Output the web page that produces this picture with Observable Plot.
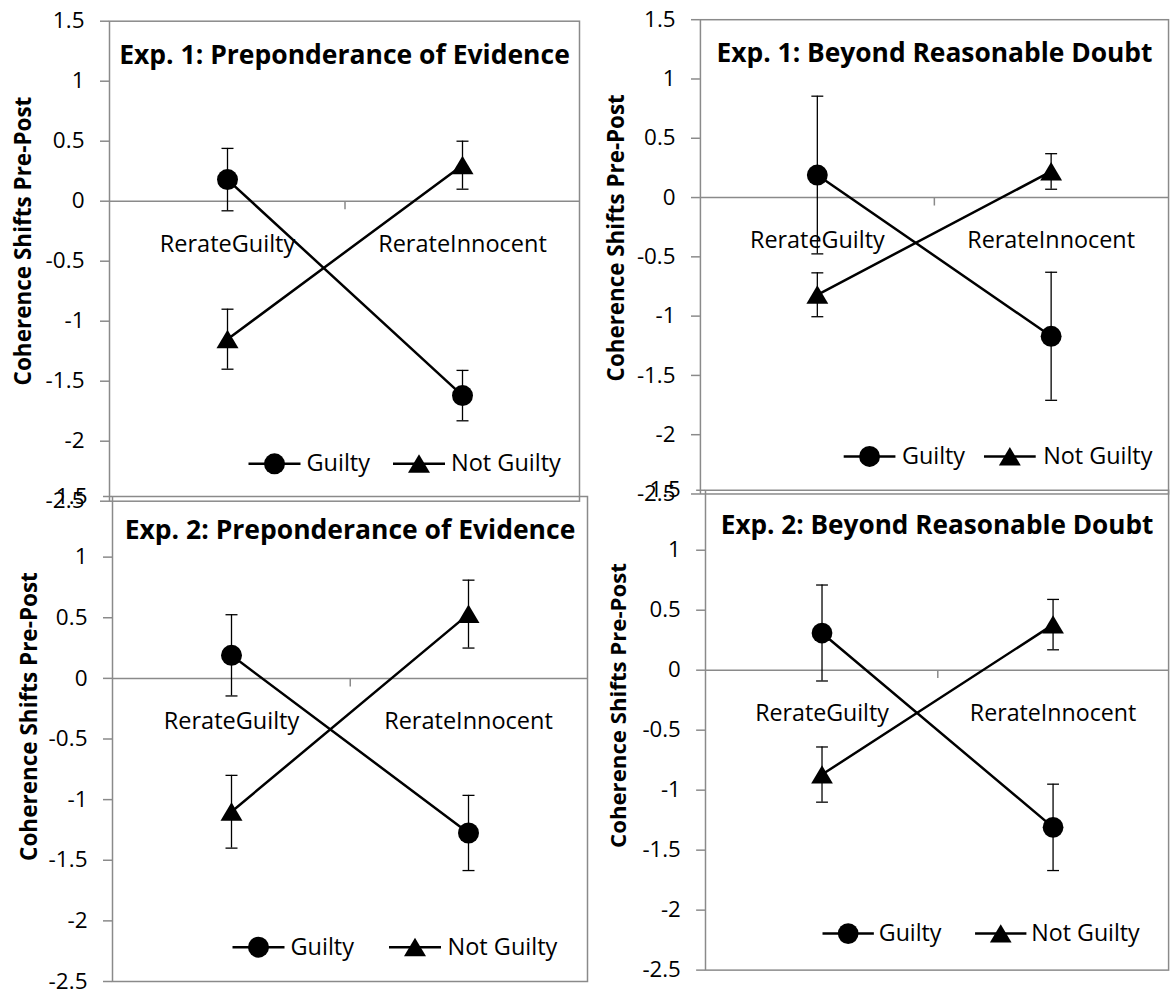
<!DOCTYPE html>
<html><head><meta charset="utf-8">
<script src="https://cdn.jsdelivr.net/npm/d3@7"></script>
<script src="https://cdn.jsdelivr.net/npm/@observablehq/plot@0.6"></script>
<style>
html,body{margin:0;padding:0;background:#fff;}
#wrap{position:relative;width:1176px;height:991px;overflow:hidden;background:#fff;}
#wrap svg{position:absolute;left:0;top:0;}
</style></head><body><div id="wrap"></div>
<script>
// ---- data ----
const categories = ["RerateGuilty", "RerateInnocent"];
const seriesNames = ["Guilty", "Not Guilty"];
const panelTitles = [
  "Exp. 1: Preponderance of Evidence",
  "Exp. 1: Beyond Reasonable Doubt",
  "Exp. 2: Preponderance of Evidence",
  "Exp. 2: Beyond Reasonable Doubt"
];
const yAxisTitle = "Coherence Shifts Pre-Post";
const yTicks = [1.5, 1, 0.5, 0, -0.5, -1, -1.5, -2, -2.5];
const yDomain = [-2.5, 1.5];

const exp1PoeGuilty = [0.18, -1.62];
const exp1PoeGuiltyErr = [0.26, 0.21];
const exp1PoeNotGuilty = [-1.15, 0.30];
const exp1PoeNotGuiltyErr = [0.25, 0.20];

const exp1BrdGuilty = [0.19, -1.17];
const exp1BrdGuiltyErr = [0.665, 0.54];
const exp1BrdNotGuilty = [-0.82, 0.22];
const exp1BrdNotGuiltyErr = [0.185, 0.15];

const exp2PoeGuilty = [0.19, -1.275];
const exp2PoeGuiltyErr = [0.335, 0.31];
const exp2PoeNotGuilty = [-1.10, 0.53];
const exp2PoeNotGuiltyErr = [0.30, 0.28];

const exp2BrdGuilty = [0.31, -1.31];
const exp2BrdGuiltyErr = [0.40, 0.36];
const exp2BrdNotGuilty = [-0.87, 0.38];
const exp2BrdNotGuiltyErr = [0.23, 0.21];

const panelData = [
  [exp1PoeGuilty, exp1PoeGuiltyErr, exp1PoeNotGuilty, exp1PoeNotGuiltyErr],
  [exp1BrdGuilty, exp1BrdGuiltyErr, exp1BrdNotGuilty, exp1BrdNotGuiltyErr],
  [exp2PoeGuilty, exp2PoeGuiltyErr, exp2PoeNotGuilty, exp2PoeNotGuiltyErr],
  [exp2BrdGuilty, exp2BrdGuiltyErr, exp2BrdNotGuilty, exp2BrdNotGuiltyErr]
];

// ---- layout (page pixels) ----
const layout = [
  {left: 109, right: 579, top: 20.7, bottom: 500.7, labX: 23, labY: 240.5, titleBase: 63.3, legY: 463.3, legX: [274, 306, 418.5, 450.5]},
  {left: 703.5, right: 1174, top: 19.3, bottom: 496, labX: 619, labY: 238.5, titleBase: 61.7, legY: 458.3, legX: [873.5, 906, 1014.5, 1048]},
  {left: 112, right: 587, top: 496, bottom: 981, labX: 29, labY: 716, titleBase: 538.3, legY: 946.7, legX: [258, 290, 414.5, 447]},
  {left: 714, right: 1183, top: 496, bottom: 982, labX: 626, labY: 714, titleBase: 540, legY: 945, legX: [858.5, 889.5, 1013, 1044]}
];

const FONT = "'Open Sans', sans-serif";
const TICK_FS = 22.5, CAT_FS = 23.5, LEG_FS = 23.5, TITLE_FS = 26.5, YLAB_FS = 22.5;
const GRAY = "#8a8a8a";

const triSymbol = {draw(ctx) { ctx.moveTo(0, -9.5); ctx.lineTo(11, 9); ctx.lineTo(-11, 9); ctx.closePath(); }};
const capSymbol = {draw(ctx) { ctx.moveTo(-6, 0); ctx.lineTo(6, 0); }};
const downTick = {draw(ctx) { ctx.moveTo(0, 0); ctx.lineTo(0, 8); }};
const legLine = {draw(ctx) { ctx.moveTo(-26, 0); ctx.lineTo(26, 0); }};

const wrap = document.getElementById("wrap");

layout.forEach((L, i) => {
  const [g, ge, ng, nge] = panelData[i];
  const rows = [];
  categories.forEach((c, j) => {
    rows.push({series: seriesNames[0], cat: c, mean: g[j], lo: g[j] - ge[j], hi: g[j] + ge[j]});
    rows.push({series: seriesNames[1], cat: c, mean: ng[j], lo: ng[j] - nge[j], hi: ng[j] + nge[j]});
  });
  const W = Math.max(1176, L.right + 8);
  const H = 991;
  const fw = L.right - L.left;
  const midY = (L.top + L.bottom) / 2;
  const legDy = L.legY - L.top;
  const leg = [
    Plot.dot([0], {frameAnchor: "top-left", dx: L.legX[0] - L.left, dy: legDy, symbol: legLine, stroke: "black", strokeWidth: 2.5, fill: "none"}),
    Plot.dot([0], {frameAnchor: "top-left", dx: L.legX[0] - L.left, dy: legDy, symbol: "circle", r: 10.5, fill: "black"}),
    Plot.text([seriesNames[0]], {frameAnchor: "top-left", dx: L.legX[1] - L.left, dy: legDy, text: d => d, textAnchor: "start", lineAnchor: "middle", fontSize: LEG_FS, fill: "black"}),
    Plot.dot([0], {frameAnchor: "top-left", dx: L.legX[2] - L.left, dy: legDy, symbol: legLine, stroke: "black", strokeWidth: 2.5, fill: "none"}),
    Plot.dot([0], {frameAnchor: "top-left", dx: L.legX[2] - L.left, dy: legDy, symbol: triSymbol, fill: "black"}),
    Plot.text([seriesNames[1]], {frameAnchor: "top-left", dx: L.legX[3] - L.left, dy: legDy, text: d => d, textAnchor: "start", lineAnchor: "middle", fontSize: LEG_FS, fill: "black"})
  ];
  const chart = Plot.plot({
    width: W, height: H,
    marginLeft: L.left, marginRight: W - L.right,
    marginTop: L.top, marginBottom: H - L.bottom,
    style: {fontFamily: FONT, background: "transparent", overflow: "visible", color: "black"},
    x: {type: "point", domain: categories, padding: 0.5, axis: null},
    y: {domain: yDomain, axis: null},
    marks: [
      Plot.frame({stroke: GRAY, strokeWidth: 1.5}),
      Plot.ruleY([0], {stroke: GRAY, strokeWidth: 1.5}),
      Plot.dot([categories[0]], {x: d => d, y: () => 0, dx: fw / 4, symbol: downTick, stroke: GRAY, strokeWidth: 1.5, fill: "none"}),
      Plot.axisY(yTicks, {tickSize: 9, tickPadding: 16, tickFormat: d => String(d), stroke: GRAY, strokeWidth: 1.5, fill: "black", fontSize: TICK_FS, label: null}),
      Plot.text(categories, {x: d => d, y: () => 0, text: d => d, dy: 51 - 0.32 * CAT_FS, lineAnchor: "middle", fontSize: CAT_FS, fill: "black"}),
      Plot.text([panelTitles[i]], {frameAnchor: "top", text: d => d, dy: L.titleBase - 0.32 * TITLE_FS - L.top, lineAnchor: "middle", fontSize: TITLE_FS, fontWeight: "bold", fill: "black"}),
      Plot.text([yAxisTitle], {frameAnchor: "left", text: d => d, dx: L.labX - L.left, dy: L.labY - midY, rotate: -90, lineAnchor: "middle", textAnchor: "middle", fontSize: YLAB_FS, fontWeight: "bold", fill: "black"}),
      Plot.ruleX(rows, {x: "cat", y1: "lo", y2: "hi", stroke: "black", strokeWidth: 1.3}),
      Plot.dot(rows, {x: "cat", y: "hi", symbol: capSymbol, stroke: "black", strokeWidth: 1.3, fill: "none"}),
      Plot.dot(rows, {x: "cat", y: "lo", symbol: capSymbol, stroke: "black", strokeWidth: 1.3, fill: "none"}),
      Plot.line(rows, {x: "cat", y: "mean", z: "series", stroke: "black", strokeWidth: 2.5}),
      Plot.dot(rows.filter(d => d.series === seriesNames[0]), {x: "cat", y: "mean", symbol: "circle", r: 10.5, fill: "black"}),
      Plot.dot(rows.filter(d => d.series === seriesNames[1]), {x: "cat", y: "mean", symbol: triSymbol, fill: "black"}),
      ...leg
    ]
  });
  wrap.appendChild(chart);
});
</script>
</body></html>
